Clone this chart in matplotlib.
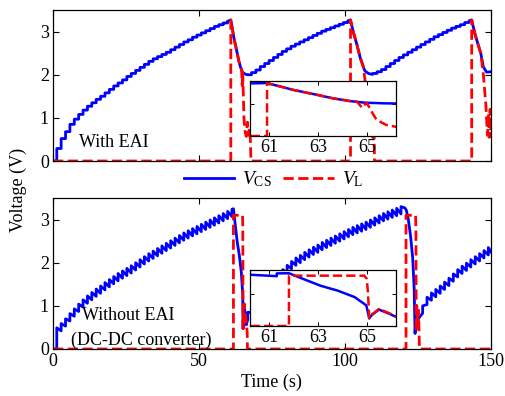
import numpy as np
import matplotlib
matplotlib.use('Agg')
import matplotlib.pyplot as plt
from matplotlib.lines import Line2D

# Times-like serif fonts, MATLAB look
plt.rcParams['font.family'] = ['Liberation Serif', 'DejaVu Serif']
plt.rcParams['mathtext.fontset'] = 'custom'
plt.rcParams['mathtext.rm'] = 'Liberation Serif'
plt.rcParams['mathtext.it'] = 'Liberation Serif:italic'
plt.rcParams['font.size'] = 11

step = 1.5  # spacing of charging pulses (s)

# ---------- With EAI (top) ----------
# V_CS staircase levels during each charging phase
a_c1_t0 = 1.3
a_c1 = [0.29, 0.52, 0.68, 0.85, 0.97, 1.08, 1.18, 1.27, 1.35, 1.43,
        1.50, 1.58, 1.66, 1.74, 1.81, 1.88, 1.96, 2.03, 2.10, 2.17,
        2.24, 2.31, 2.37, 2.42, 2.47, 2.52, 2.58, 2.64, 2.70, 2.76,
        2.81, 2.87, 2.92, 2.97, 3.02, 3.07, 3.12, 3.16, 3.20, 3.24]
a_d1_t = [60.9, 61.6, 62.0, 63.0, 63.6, 64.3, 64.9, 65.7, 66.5, 67.5]
a_d1_v = [3.27, 3.00, 2.84, 2.53, 2.33, 2.16, 2.06, 2.02, 2.00, 2.00]
a_c2_t0 = 68.0
a_c2 = [2.05, 2.11, 2.19, 2.26, 2.33, 2.40, 2.47, 2.54, 2.60, 2.66,
        2.71, 2.76, 2.81, 2.86, 2.91, 2.96, 3.01, 3.05, 3.09, 3.13,
        3.17, 3.21, 3.25]
a_d2_t = [101.9, 102.8, 104.0, 105.2, 106.3, 106.8, 108.0, 109.2]
a_d2_v = [3.27, 3.00, 2.72, 2.40, 2.18, 2.09, 2.03, 2.01]
a_c3_t0 = 109.5
a_c3 = [2.03, 2.07, 2.12, 2.19, 2.26, 2.33, 2.40, 2.46, 2.52, 2.58,
        2.64, 2.70, 2.76, 2.82, 2.88, 2.93, 2.98, 3.03, 3.08, 3.12,
        3.16, 3.21, 3.25]
a_d3_t = [143.4, 144.5, 145.5, 146.5, 147.4, 148.5, 150.0]
a_d3_v = [3.27, 2.95, 2.72, 2.50, 2.18, 2.06, 2.07]
# V_L with EAI
a_vl_t = [0, 60.9, 60.9, 61.6, 62.0, 63.0, 63.6, 64.3, 64.6, 64.8, 65.0,
          65.2, 65.4, 65.8, 66.2, 66.6, 66.9, 67.3, 67.6, 67.8,
          101.9, 101.9, 102.8, 104.0, 105.2, 106.3, 106.9, 107.5, 108.2,
          109.5, 110.0, 110.1, 143.4, 143.4, 144.5, 145.5, 146.5, 147.4,
          148.3, 148.8, 149.2, 149.4, 149.7, 150.0]
a_vl_v = [0, 0, 3.27, 3.00, 2.84, 2.53, 2.33, 2.16, 2.12, 1.75, 2.05,
          1.50, 1.00, 0.68, 0.57, 0.90, 0.60, 0.75, 0.50, 0,
          0, 3.27, 3.00, 2.72, 2.40, 2.18, 1.85, 1.20, 0.70,
          0.55, 0.55, 0, 0, 3.27, 2.95, 2.72, 2.50, 2.00,
          1.25, 0.60, 1.10, 0.55, 1.20, 0.55]

# ---------- Without EAI (bottom) ----------
b_spike = 0.17  # height of the charging spikes
b_c1_t0 = 1.3
b_c1 = [0.32, 0.42, 0.53, 0.65, 0.76, 0.87, 0.97, 1.06, 1.14, 1.22,
        1.29, 1.37, 1.44, 1.51, 1.58, 1.64, 1.70, 1.76, 1.83, 1.90,
        1.97, 2.04, 2.10, 2.16, 2.22, 2.28, 2.34, 2.40, 2.46, 2.52,
        2.57, 2.62, 2.67, 2.72, 2.77, 2.82, 2.87, 2.92, 2.97, 3.02, 3.07]
b_d1_t = [61.8, 62.4, 63.1, 63.8, 64.5, 64.98, 65.1, 65.2, 65.5, 65.9, 66.2]
b_d1_v = [3.25, 2.89, 2.48, 2.18, 1.78, 1.27, 0.47, 0.67, 1.01, 0.77, 0.56]
b_c2_t0 = 66.7
b_c2 = [0.68, 0.85, 0.98, 1.08, 1.20, 1.31, 1.43, 1.55, 1.67, 1.77,
        1.86, 1.94, 2.00, 2.07, 2.13, 2.19, 2.24, 2.30, 2.35, 2.40,
        2.45, 2.50, 2.55, 2.60, 2.65, 2.69, 2.73, 2.77, 2.82, 2.87,
        2.92, 2.97, 3.01, 3.05, 3.09, 3.13]
b_d2_t = [120.5, 121.0, 121.7, 122.5, 123.2, 123.7, 124.0, 124.2, 124.5, 124.8]
b_d2_v = [3.27, 3.22, 3.00, 2.60, 2.10, 1.40, 0.36, 0.60, 0.90, 0.55]
b_c3_t0 = 125.1
b_c3 = [0.53, 0.83, 1.03, 1.13, 1.21, 1.29, 1.38, 1.47, 1.57, 1.67,
        1.75, 1.82, 1.90, 1.97, 2.04, 2.11, 2.18]
b_end_t, b_end_v = [150.0], [2.25]
# V_L without EAI
b_vl_t = [0, 61.8, 61.8, 64.9, 65.0, 65.05, 65.1, 65.2, 65.5, 65.9, 66.2,
          66.5, 66.6, 120.9, 120.9, 124.2, 124.3, 124.4, 124.6, 124.9,
          125.2, 125.5, 150.0]
b_vl_v = [0, 0, 3.10, 3.10, 2.90, 2.00, 0.47, 0.70, 1.05, 0.80, 0.60,
          0.40, 0, 0, 3.10, 3.10, 2.70, 0.40, 1.00, 0.50, 0.90, 0, 0]


def stairs(t0, levels, prev):
    xs, ys = [], []
    for k, v in enumerate(levels):
        t = t0 + step * k
        xs += [t, t]
        ys += [prev, v]
        prev = v
    return xs, ys


def comb(t0, troughs):
    xs, ys = [], []
    for k, v in enumerate(troughs):
        t = t0 + step * k
        xs += [t, t]
        ys += [v, v + b_spike]
    return xs, ys


# assemble V_CS curves
x, y = [0.0], [0.0]
for seg in [stairs(a_c1_t0, a_c1, 0.0), (a_d1_t, a_d1_v),
            stairs(a_c2_t0, a_c2, a_d1_v[-1]), (a_d2_t, a_d2_v),
            stairs(a_c3_t0, a_c3, a_d2_v[-1]), (a_d3_t, a_d3_v)]:
    x += list(seg[0]); y += list(seg[1])
a_vcs_t, a_vcs_v = np.array(x), np.array(y)

x, y = [0.0, b_c1_t0], [0.0, 0.0]
for seg in [comb(b_c1_t0, b_c1), (b_d1_t, b_d1_v),
            comb(b_c2_t0, b_c2), (b_d2_t, b_d2_v),
            comb(b_c3_t0, b_c3), (b_end_t, b_end_v)]:
    x += list(seg[0]); y += list(seg[1])
b_vcs_t, b_vcs_v = np.array(x), np.array(y)

blue = (0, 0, 1)
red = (1, 0, 0)

fig = plt.figure(figsize=(5.06, 3.96), dpi=100)
ax1 = fig.add_axes([0.1047, 0.5934, 0.8656, 0.3813])
ax2 = fig.add_axes([0.1047, 0.1187, 0.8656, 0.3813])
in1 = fig.add_axes([0.4941, 0.6566, 0.2885, 0.1389])
in2 = fig.add_axes([0.4941, 0.1768, 0.2885, 0.1414])

for ax, (tb, vb), (tr, vr) in [(ax1, (a_vcs_t, a_vcs_v), (a_vl_t, a_vl_v)),
                               (ax2, (b_vcs_t, b_vcs_v), (b_vl_t, b_vl_v))]:
    ax.plot(tb, vb, color=blue, lw=2)
    ax.plot(tr, vr, color=red, lw=2, ls='--')
    ax.set_xlim(0, 150)
    ax.set_ylim(0, 3.5)
    ax.set_xticks([0, 50, 100, 150])
    ax.set_yticks([0, 1, 2, 3])
    ax.tick_params(direction='in', top=True, right=True, length=4, width=0.8,
                   labelsize=13, pad=3)
    for s in ax.spines.values():
        s.set_linewidth(0.9)
ax1.set_xticklabels([])

for ax, (tb, vb), (tr, vr), top in [(in1, (a_vcs_t, a_vcs_v), (a_vl_t, a_vl_v), 3.4),
                                    (in2, (b_vcs_t, b_vcs_v), (b_vl_t, b_vl_v), 3.45)]:
    ax.set_facecolor('white')
    ax.plot(tb, vb, color=blue, lw=1.8)
    ax.plot(tr, vr, color=red, lw=1.8, ls='--')
    ax.set_xlim(60.2, 66.2)
    ax.set_ylim(0, top)
    ax.set_xticks([61, 63, 65])
    ax.set_yticks([0, 2])
    ax.set_yticklabels([])
    ax.tick_params(direction='in', top=True, right=True, length=3, width=0.7,
                   labelsize=13, pad=2)
    for s in ax.spines.values():
        s.set_linewidth(0.9)

ax1.text(9.0, 0.42, 'With EAI', fontsize=13, va='center')
ax2.text(9.8, 0.77, 'Without EAI', fontsize=13, va='center')
ax2.text(6.3, 0.21, '(DC-DC converter)', fontsize=13, va='center')

fig.text(0.036, 0.52, 'Voltage (V)', rotation=90, ha='center', va='center', fontsize=13)
fig.text(0.537, 0.035, 'Time (s)', ha='center', va='center', fontsize=13)

handles = [Line2D([], [], color=blue, lw=2),
           Line2D([], [], color=red, lw=2, ls='--')]
fig.legend(handles, [r'$V_{\rm CS}$', r'$V_{\rm L}$'], loc='center',
           bbox_to_anchor=(0.54, 0.547), ncol=2, frameon=False, fontsize=14,
           handlelength=2.6, handletextpad=0.4, columnspacing=0.6)

fig.savefig('out.png', dpi=100)
